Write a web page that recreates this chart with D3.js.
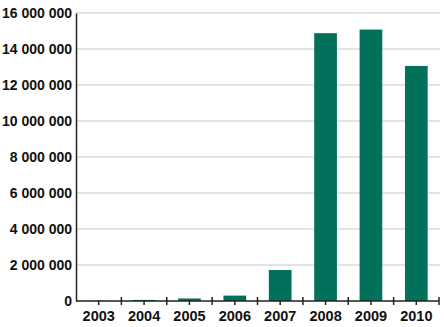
<!DOCTYPE html>
<html>
<head>
<meta charset="utf-8">
<script src="https://cdn.jsdelivr.net/npm/d3@7"></script>
<style>
  body { margin: 0; background: #fff; }
  text { font-family: "Liberation Sans", Arial, sans-serif; font-weight: bold; fill: #111; }
</style>
</head>
<body>
<script>
const years = ['2003', '2004', '2005', '2006', '2007', '2008', '2009', '2010'];
const values = [10000, 60000, 140000, 300000, 1720000, 14880000, 15080000, 13060000];
const yTicks = [0, 2000000, 4000000, 6000000, 8000000, 10000000, 12000000, 14000000, 16000000];

const width = 444, height = 327;
const margin = { top: 13, right: 5, bottom: 26, left: 76 };
const color = '#02705a';

const svg = d3.select('body').append('svg').attr('width', width).attr('height', height);

const x = d3.scaleBand()
    .domain(years)
    .range([margin.left, width - margin.right])
    .paddingInner(0.5)
    .paddingOuter(0.25);

const y = d3.scaleLinear()
    .domain([0, 16000000])
    .range([height - margin.bottom, margin.top]);

const fmt = v => d3.format(',')(v).replace(/,/g, ' ');

// gridlines
svg.append('g')
    .selectAll('line')
    .data(yTicks.filter(d => d > 0))
    .join('line')
    .attr('x1', margin.left).attr('x2', width - margin.right + 1)
    .attr('y1', d => y(d)).attr('y2', d => y(d))
    .attr('stroke', '#c8c8c8').attr('stroke-width', 1);

// bars
svg.append('g')
    .selectAll('rect')
    .data(values)
    .join('rect')
    .attr('x', (d, i) => x(years[i]))
    .attr('width', x.bandwidth())
    .attr('y', d => y(d))
    .attr('height', d => y(0) - y(d))
    .attr('fill', color);

// y axis
const yAxis = svg.append('g')
    .attr('transform', `translate(${margin.left},0)`)
    .call(d3.axisLeft(y).tickValues(yTicks).tickFormat(fmt).tickSize(0).tickPadding(4));
yAxis.select('.domain').attr('stroke', '#222').attr('stroke-width', 1.5);
yAxis.selectAll('text').attr('font-size', 14);

// x axis
const x0 = margin.left;
const xAxis = svg.append('g')
    .attr('transform', `translate(0,${y(0)})`)
    .call(d3.axisBottom(x).tickSize(4).tickPadding(6));
xAxis.select('.domain').attr('stroke', '#222').attr('stroke-width', 1.5)
    .attr('d', `M${margin.left},0H${width - margin.right}`);
xAxis.selectAll('.tick line').attr('stroke', '#222').attr('stroke-width', 1.5);
xAxis.selectAll('text').attr('font-size', 14.5);
// boundary ticks
xAxis.append('g')
    .selectAll('line')
    .data(d3.range(1, years.length + 1))
    .join('line')
    .attr('x1', i => x0 + i * (width - margin.right - margin.left) / years.length)
    .attr('x2', i => x0 + i * (width - margin.right - margin.left) / years.length)
    .attr('y1', -4).attr('y2', 4)
    .attr('stroke', '#222').attr('stroke-width', 1.5);
</script>
</body>
</html>
